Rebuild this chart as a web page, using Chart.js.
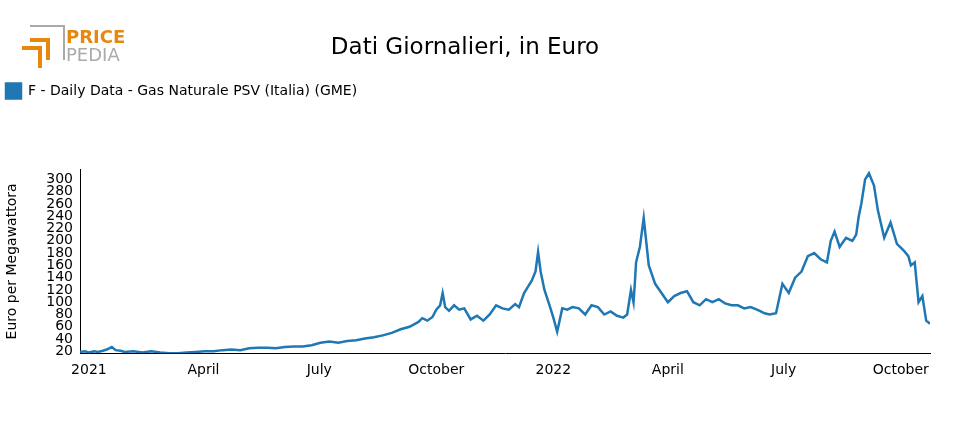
<!DOCTYPE html>
<html>
<head>
<meta charset="utf-8">
<script src="https://cdn.jsdelivr.net/npm/chart.js@4/dist/chart.umd.min.js"></script>
<style>
  body { margin: 0; background: #fff; font-family: "DejaVu Sans", sans-serif; }
  #wrap { position: relative; width: 960px; height: 430px; }
  #logo { position: absolute; left: 20px; top: 24px; width: 110px; height: 50px; }
  #logo .a { position: absolute; left: 46px; top: 2px; font-size: 18px; font-weight: bold; color: #e8870e; }
  #logo .b { position: absolute; left: 46px; top: 20px; font-size: 18px; color: #aaa; }
</style>
</head>
<body>
<div id="wrap">
  <div id="logo">
    <svg width="46" height="48" style="position:absolute;left:0;top:0">
      <path d="M10 2 H44 V36" fill="none" stroke="#aaa" stroke-width="2"/>
      <path d="M2 24 H20 V44" fill="none" stroke="#e8870e" stroke-width="4"/>
      <path d="M10 16 H28 V36" fill="none" stroke="#e8870e" stroke-width="4"/>
    </svg>
    <span class="a">PRICE</span><span class="b">PEDIA</span>
  </div>
  <canvas id="chart" width="960" height="430"></canvas>
</div>
<script>
// days since 1 Jan 2021
const days = [-7, -3, 0, 4, 7, 11, 14, 18, 21, 25, 28, 35, 42, 49, 56, 63, 70, 77, 84, 91, 98, 105, 112, 119, 126, 133, 140, 147, 154, 161, 168, 175, 182, 189, 196, 203, 210, 217, 224, 231, 238, 245, 252, 259, 262, 266, 270, 273, 276, 278, 280, 283, 287, 291, 295, 300, 305, 310, 315, 320, 325, 330, 335, 338, 342, 345, 348, 351, 353, 355, 358, 362, 365, 368, 372, 376, 380, 385, 390, 395, 400, 405, 410, 415, 420, 423, 426, 428, 429, 430, 433, 436, 440, 445, 450, 455, 460, 465, 470, 475, 480, 485, 490, 495, 500, 505, 510, 515, 520, 525, 528, 531, 535, 540, 545, 550, 555, 560, 565, 570, 575, 580, 583, 586, 590, 595, 600, 603, 605, 607, 610, 613, 617, 620, 625, 630, 635, 640, 644, 646, 649, 652, 655, 658, 661];
const values = [19, 20, 18, 20, 19, 21, 23, 27, 22, 21, 19, 20, 18, 20, 18, 17, 17, 18, 19, 20, 20, 22, 23, 22, 25, 26, 26, 25, 27, 28, 28, 30, 34, 36, 34, 37, 38, 41, 43, 46, 50, 56, 60, 68, 74, 70, 76, 88, 95, 115, 92, 86, 95, 88, 90, 72, 78, 70, 80, 95, 90, 88, 97, 92, 115, 125, 135, 150, 182, 150, 120, 95, 75, 52, 90, 88, 92, 90, 80, 95, 92, 80, 85, 78, 75, 80, 120, 100, 130, 165, 190, 237, 160, 130, 115, 100, 110, 115, 118, 100, 95, 105, 100, 105, 98, 95, 95, 90, 92, 88, 85, 82, 80, 82, 130, 115, 140, 150, 175, 180, 170, 165, 200, 215, 190, 205, 200, 210, 240, 260, 300, 310, 290, 250, 205, 230, 195, 185, 175, 160, 165, 100, 110, 70, 65, 43];
const tickDays = [0, 90, 181, 273, 365, 455, 546, 638];
const tickLabels = ['2021', 'April', 'July', 'October', '2022', 'April', 'July', 'October'];
const yTicks = [20, 40, 60, 80, 100, 120, 140, 160, 180, 200, 220, 240, 260, 280, 300];

const points = days.map((d, i) => ({ x: d, y: values[i] }));

// push the plot area down below the legend
const legendGap = {
    id: 'legendGap',
    beforeInit(chart) {
        const fit = chart.legend.fit;
        chart.legend.fit = function () {
            fit.bind(chart.legend)();
            this.height += 61;
        };
    }
};

new Chart(document.getElementById('chart'), {
    type: 'line',
    data: {
        datasets: [{
            label: 'F - Daily Data - Gas Naturale PSV (Italia) (GME)',
            data: points,
            borderColor: '#1f77b4',
            backgroundColor: '#1f77b4',
            borderWidth: 2.5,
            pointRadius: 0,
            tension: 0
        }]
    },
    options: {
        responsive: false,
        animation: false,
        layout: { padding: { left: 0, right: 30, top: 10, bottom: 48 } },
        plugins: {
            title: {
                display: true,
                text: 'Dati Giornalieri, in Euro',
                color: '#000',
                font: { family: 'DejaVu Sans', size: 23, weight: 'normal' },
                padding: { top: 24, bottom: 16 }
            },
            legend: {
                align: 'start',
                labels: {
                    boxWidth: 15, boxHeight: 15, color: '#000',
                    font: { family: 'DejaVu Sans', size: 14 },
                    padding: 6
                }
            },
            tooltip: { enabled: false }
        },
        scales: {
            x: {
                type: 'linear',
                min: -7, max: 661,
                grid: { display: false, drawTicks: true, tickLength: 6 },
                border: { color: '#000' },
                afterBuildTicks: axis => { axis.ticks = tickDays.map(v => ({ value: v })); },
                ticks: {
                    color: '#000', maxRotation: 0, autoSkip: false,
                    font: { family: 'DejaVu Sans', size: 14 },
                    callback: (v) => tickLabels[tickDays.indexOf(v)]
                }
            },
            y: {
                min: 17, max: 316,
                grid: { display: false, tickLength: 5 },
                border: { color: '#000' },
                afterFit: axis => { axis.width = 80; },
                afterBuildTicks: axis => { axis.ticks = yTicks.map(v => ({ value: v })); },
                ticks: { color: '#000', autoSkip: false, font: { family: 'DejaVu Sans', size: 14 }, padding: 2 },
                title: {
                    display: true, text: 'Euro per Megawattora', color: '#000',
                    font: { family: 'DejaVu Sans', size: 14 }
                }
            }
        }
    },
    plugins: [legendGap]
});
</script>
</body>
</html>
